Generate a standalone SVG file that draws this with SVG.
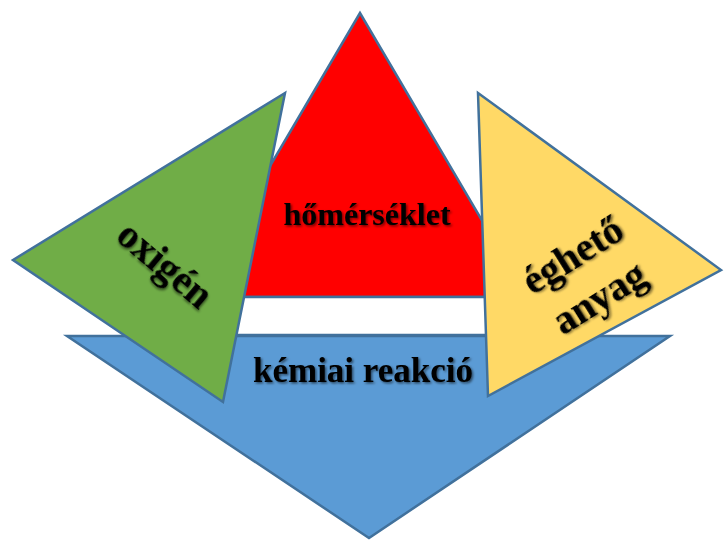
<svg xmlns="http://www.w3.org/2000/svg" width="724" height="541" viewBox="0 0 724 541">
  <defs>
    <filter id="shadow" x="-20%" y="-40%" width="140%" height="180%">
      <feDropShadow dx="1.5" dy="1.5" stdDeviation="1.2" flood-color="#000" flood-opacity="0.55"/>
    </filter>
    <style>
      .shape { stroke: #41719C; stroke-width: 2.5; stroke-linejoin: miter; }
      .lbl { font-family: "Liberation Serif", "Times New Roman", serif; font-weight: bold; fill: #000; text-anchor: middle; filter: url(#shadow); }
    </style>
  </defs>
  <rect width="724" height="541" fill="#ffffff"/>

  <g id="kemiai-reakcio">
    <polygon class="shape" points="67,336 670,336 369,538" fill="#5B9BD5"/>
    <text class="lbl" x="363" y="382" font-size="35">kémiai reakció</text>
  </g>

  <g id="homerseklet">
    <polygon class="shape" points="360,13 193,297 527,297" fill="#FF0000"/>
    <polygon class="shape" points="193,297 527,297 549,335 171,335" fill="#FFFFFF"/>
    <text class="lbl" x="367" y="225" font-size="32">hőmérséklet</text>
  </g>

  <g id="oxigen">
    <polygon class="shape" points="285,93 13,260 223,402" fill="#70AD47"/>
    <text class="lbl" font-size="40" transform="translate(163,267) rotate(40)" x="0" y="10">oxigén</text>
  </g>

  <g id="egheto-anyag">
    <polygon class="shape" points="478,93 721,270 488,396" fill="#FFD966"/>
    <g transform="translate(588,280) rotate(-32)">
      <text class="lbl" font-size="40" x="0" y="-16">éghető</text>
      <text class="lbl" font-size="40" x="0" y="34">anyag</text>
    </g>
  </g>

  <g id="connectors"/>
</svg>
